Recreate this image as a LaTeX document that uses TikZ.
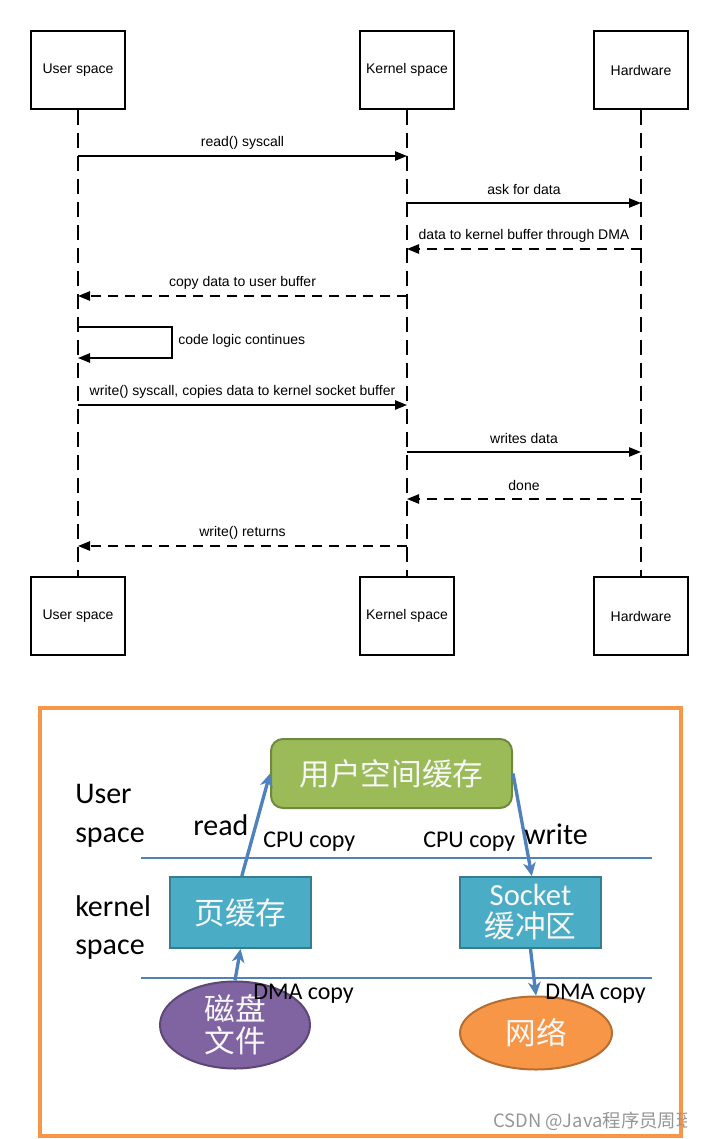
\documentclass[tikz,border=0pt]{standalone}
\usepackage{fontspec}
\setmainfont{Liberation Sans}
\newfontfamily\calfont{Carlito}
\newfontfamily\cjk{Noto Sans CJK SC}
\usetikzlibrary{arrows.meta,shapes.geometric}
\definecolor{ogreen}{HTML}{9BBB59}
\definecolor{ogreenb}{HTML}{71893F}
\definecolor{oteal}{HTML}{4BACC6}
\definecolor{otealb}{HTML}{357D91}
\definecolor{opurple}{HTML}{8064A2}
\definecolor{opurpleb}{HTML}{5C4776}
\definecolor{oorange}{HTML}{F79646}
\definecolor{oorangeb}{HTML}{B66D31}
\definecolor{oblue}{HTML}{4F81BD}
\definecolor{wmgray}{RGB}{150,150,150}
\tikzset{
  actor/.style={draw, line width=1.1pt, minimum width=70.5pt, minimum height=58.5pt, inner sep=0pt, font=\fontsize{10.5}{12}\selectfont},
  life/.style={line width=1.1pt, dash pattern=on 11.25pt off 6pt},
  msg/.style={line width=1.1pt, -{Triangle[length=9pt,width=7pt]}},
  rmsg/.style={msg, dash pattern=on 7.5pt off 5.25pt},
  lbl/.style={font=\fontsize{10.5}{12}\selectfont, inner sep=0pt},
  sep/.style={oblue, line width=0.8pt},
  barrow/.style={oblue, line width=2.5pt, -{Stealth[length=10pt,width=9.5pt,inset=3pt]}},
  big/.style={font=\calfont\fontsize{22.5}{26}\selectfont, inner sep=0pt, anchor=base west},
  mid/.style={font=\calfont\fontsize{18}{21}\selectfont, inner sep=0pt, anchor=base west},
  cn/.style={font=\cjk\fontsize{23}{25}\selectfont, text=white!94!gray, align=center, inner sep=0pt},
}
\begin{document}
\begin{tikzpicture}[x=0.75pt,y=-0.75pt]
\useasboundingbox[fill=white] (0,0) rectangle (720,1139);

% ---------- sequence diagram ----------
\node[actor] (u1) at (78,70) {User space};
\node[actor] (k1) at (407,70) {Kernel space};
\node[actor] (h1) at (641,70) {Hardware};
\node[actor] (u2) at (78,616) {User space};
\node[actor] (k2) at (407,616) {Kernel space};
\node[actor] (h2) at (641,616) {Hardware};

\draw[life] (u1.south) -- (u2.north);
\draw[life] (k1.south) -- (k2.north);
\draw[life] (h1.south) -- (h2.north);

\draw[msg] (u1.south |- 0,156) -- node[lbl, yshift=10pt]{read() syscall} (k1.south |- 0,156);
\draw[msg] (k1.south |- 0,203) -- node[lbl, yshift=10pt]{ask for data} (h1.south |- 0,203);
\draw[rmsg] (h1.south |- 0,249) -- node[lbl, yshift=10pt]{data to kernel buffer through DMA} (k1.south |- 0,249);
\draw[rmsg] (k1.south |- 0,296) -- node[lbl, yshift=10pt]{copy data to user buffer} (u1.south |- 0,296);
\coordinate (s1) at (172,327);
\coordinate (s2) at (172,358);
\draw[msg] (u1.south |- 0,327) -- (s1) -- (s2) -- (u1.south |- 0,358);
\node[lbl, anchor=west] (cl) at (178,341) {code logic continues};
\draw[msg] (u1.south |- 0,405) -- node[lbl, yshift=10pt]{write() syscall, copies data to kernel socket buffer} (k1.south |- 0,405);
\draw[msg] (k1.south |- 0,452) -- node[lbl, yshift=10pt]{writes data} (h1.south |- 0,452);
\draw[rmsg] (h1.south |- 0,499) -- node[lbl, yshift=10pt]{done} (k1.south |- 0,499);
\draw[rmsg] (k1.south |- 0,546) -- node[lbl, yshift=10pt]{write() returns} (u1.south |- 0,546);

% ---------- copy diagram ----------
\draw[oorange, line width=2.4pt] (40,708) rectangle (681,1136);

\draw[sep] (141,858) -- (652,858);
\draw[sep] (141,978) -- (652,978);

\node[cn, fill=ogreen, draw=ogreenb, line width=1.5pt, rounded corners=9pt,
      minimum width=180.75pt, minimum height=51.75pt] (ub) at (391.5,773.5) {用户空间缓存};
\node[cn, fill=oteal, draw=otealb, line width=1.5pt,
      minimum width=105.75pt, minimum height=53.25pt] (pc) at (240.5,912.5) {页缓存};
\node[cn, fill=oteal, draw=otealb, line width=1.5pt, font=\cjk\fontsize{23}{24}\selectfont,
      minimum width=105.75pt, minimum height=53.25pt] (sk) at (530.5,912.5) {{\calfont Socket}\\缓冲区};
\node[cn, ellipse, fill=opurple, draw=opurpleb, line width=1.5pt, font=\cjk\fontsize{23}{24}\selectfont,
      minimum width=112.5pt, minimum height=65.25pt] (disk) at (235,1025) {磁盘\\文件};
\node[cn, ellipse, fill=oorange, draw=oorangeb, line width=1.5pt,
      minimum width=114pt, minimum height=54.75pt] (net) at (536,1033) {网络};

\draw[barrow] ([xshift=1pt]pc.north) -- (ub.west);
\draw[barrow] (ub.east) -- ([xshift=1pt]sk.north);
\draw[barrow] (disk.north) -- (pc.south);
\draw[barrow] (sk.south) -- (net.north);

\node[big] (t1) at (75,803) {User};
\node[big] (t2) at (75,842) {space};
\node[big] (t3) at (75,916) {kernel};
\node[big] (t4) at (75,954) {space};
\node[big] (t5) at (193,835) {read};
\node[big] (t6) at (524,844) {write};
\node[mid] (c1) at (263,847) {CPU copy};
\node[mid] (c2) at (423,847) {CPU copy};
\node[mid] (d1) at (253,999) {DMA copy};
\node[mid] (d2) at (545,999) {DMA copy};

\begin{scope}
\clip (0,1000) rectangle (686,1139);
\node[font=\cjk\fontsize{13.8}{15}\selectfont, text=wmgray, inner sep=0pt, anchor=base west] (wm) at (493,1127) {CSDN @Java程序员周瑶};
\end{scope}
\end{tikzpicture}
\end{document}
